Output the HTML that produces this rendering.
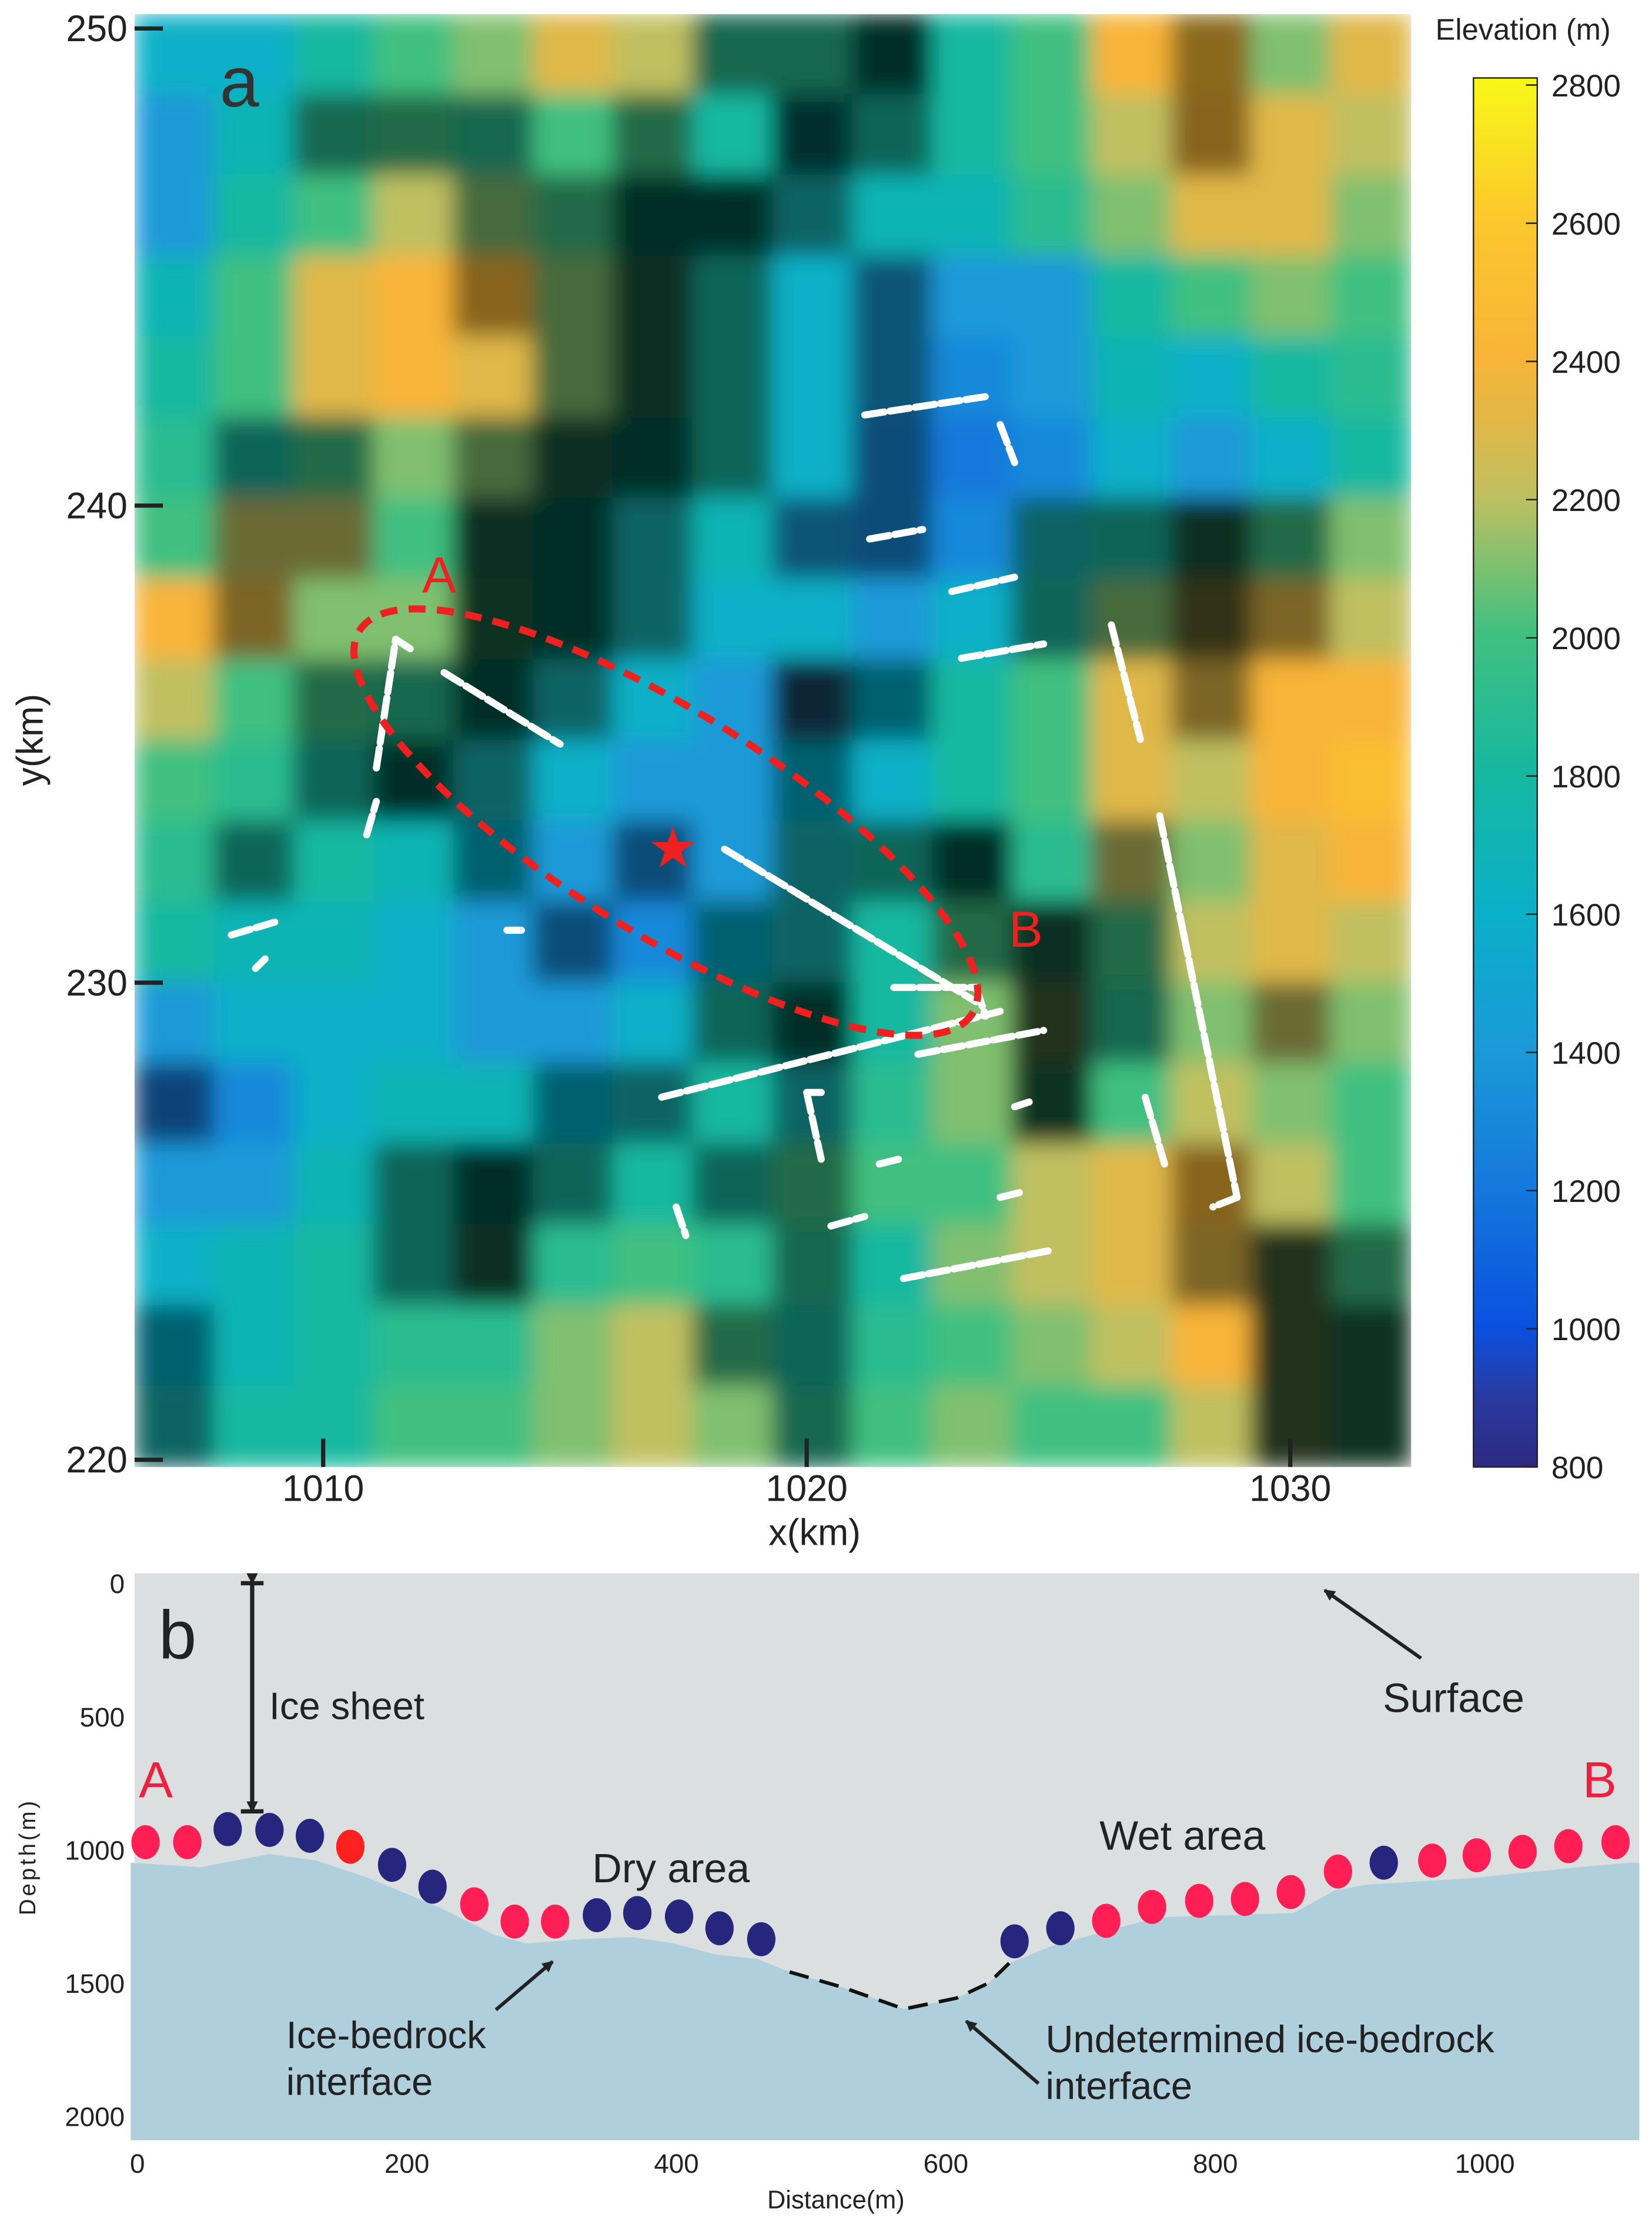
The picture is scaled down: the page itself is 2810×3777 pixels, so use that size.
<!DOCTYPE html>
<html><head><meta charset="utf-8"><style>
html,body{margin:0;padding:0;background:#fff;}
svg{display:block;}
text{font-family:"Liberation Sans",sans-serif;}
.n{font-family:"Liberation Sans Narrow","Liberation Sans",sans-serif;}
</style></head><body>
<svg id="fig" width="2810" height="3777" viewBox="0 0 1166 1567" preserveAspectRatio="none" xmlns="http://www.w3.org/2000/svg">
<defs>
<clipPath id="mapclip"><rect x="95" y="10" width="901" height="1025"/></clipPath>
<filter id="soft" x="0" y="0" width="1" height="1"><feGaussianBlur stdDeviation="8" edgeMode="duplicate"/></filter>
<linearGradient id="cbgrad" x1="0" y1="1" x2="0" y2="0">
<stop offset="0" stop-color="#2c2a80"/><stop offset="0.05" stop-color="#2a3aa0"/><stop offset="0.1" stop-color="#0a50e0"/><stop offset="0.2" stop-color="#1478dc"/><stop offset="0.3" stop-color="#1a9ad8"/><stop offset="0.4" stop-color="#0ab0c8"/><stop offset="0.5" stop-color="#16b8a0"/><stop offset="0.6" stop-color="#40c080"/><stop offset="0.65" stop-color="#80c070"/><stop offset="0.7" stop-color="#c0c060"/><stop offset="0.75" stop-color="#e0b848"/><stop offset="0.8" stop-color="#f8b438"/><stop offset="0.9" stop-color="#fcc82c"/><stop offset="1" stop-color="#f8f818"/>
</linearGradient>
<marker id="ah" markerWidth="8" markerHeight="8" refX="7" refY="4" orient="auto" markerUnits="userSpaceOnUse" viewBox="0 0 8 8"><path d="M0,0 L8,4 L0,8 z" fill="#222"/></marker>
</defs>
<g id="panelA">
<g clip-path="url(#mapclip)"><g id="heat" filter="url(#soft)"></g></g>
<g id="tracks" stroke="#fff" stroke-width="5" stroke-linecap="round" fill="none"></g>
<ellipse cx="470" cy="580" rx="255" ry="78" transform="rotate(32 470 580)" fill="none" stroke="#ee2020" stroke-width="5" stroke-dasharray="12 8"/>
<text x="475" y="612" font-size="40" fill="#ee2020" text-anchor="middle">★</text>
<text x="298" y="418" font-size="36" fill="#ee2020">A</text>
<text x="712" y="668" font-size="36" fill="#ee2020">B</text>
<text x="155" y="75" font-size="50" fill="#333">a</text>
<g id="axesA"></g>
<text x="575" y="1090" font-size="26" text-anchor="middle" fill="#222">x(km)</text>
<text x="30" y="522" font-size="26" text-anchor="middle" fill="#222" transform="rotate(-90 30 522)">y(km)</text>
<rect x="1040" y="55" width="45" height="980" fill="url(#cbgrad)" stroke="#222" stroke-width="1"/>
<g id="cbticks"></g>
<text x="1075" y="28" font-size="21" text-anchor="middle" fill="#222">Elevation (m)</text>
</g>
<g id="panelB">
<rect x="95" y="1110" width="1062" height="400" fill="#dcdfdf"/>
<g id="profile"></g>
<text x="112" y="1170" font-size="48" fill="#222" class="n">b</text>
<line x1="178" y1="1117" x2="178" y2="1278" stroke="#222" stroke-width="3" marker-start="url(#ah)" marker-end="url(#ah)"/>
<line x1="170" y1="1117" x2="186" y2="1117" stroke="#222" stroke-width="3"/>
<line x1="170" y1="1278" x2="186" y2="1278" stroke="#222" stroke-width="3"/>
<text x="190" y="1213" font-size="27" fill="#222" class="n">Ice sheet</text>
<text x="98" y="1268" font-size="36" fill="#ee2040" class="n">A</text>
<text x="1117" y="1268" font-size="36" fill="#ee2040" class="n">B</text>
<text x="976" y="1208" font-size="29" fill="#222" class="n">Surface</text>
<line x1="1003" y1="1170" x2="935" y2="1122" stroke="#222" stroke-width="2.5" marker-end="url(#ah)"/>
<text x="418" y="1328" font-size="29" fill="#222" class="n">Dry area</text>
<text x="776" y="1305" font-size="29" fill="#222" class="n">Wet area</text>
<text x="202" y="1445" font-size="27" fill="#222" class="n">Ice-bedrock</text>
<text x="202" y="1478" font-size="27" fill="#222" class="n">interface</text>
<line x1="350" y1="1418" x2="390" y2="1384" stroke="#222" stroke-width="2.5" marker-end="url(#ah)"/>
<text x="738" y="1448" font-size="27" fill="#222" class="n">Undetermined ice-bedrock</text>
<text x="738" y="1481" font-size="27" fill="#222" class="n">interface</text>
<line x1="733" y1="1470" x2="682" y2="1426" stroke="#222" stroke-width="2.5" marker-end="url(#ah)"/>
<g id="axesB"></g>
<text x="590" y="1558" font-size="18" text-anchor="middle" fill="#222" class="n">Distance(m)</text>
<text x="25" y="1310" font-size="16" text-anchor="middle" fill="#222" letter-spacing="2" transform="rotate(-90 25 1310)">Depth(m)</text>
</g>
</svg>
<script>
// ---- panel a data (elevation in hundreds of m) ----
const elevRows = [
[16,16,18,20,21,23,22,19,19,18,18,20,24,25,21,23],
[14,17,19,20,19,20,20,18,17,18,18,20,22,24,23,22],
[14,18,20,22,21,20,18,18,17,17,17,19,21,23,23,21],
[17,20,23,24,24,21,19,18,16,14,14,14,18,20,21,20],
[18,20,23,24,23,21,19,18,16,14,13,14,17,16,18,19],
[19,18,20,21,21,19,18,18,16,13,12,13,16,14,16,18],
[20,22,22,20,19,18,17,17,14,13,13,17,18,19,20,21],
[24,23,21,21,20,18,17,16,16,14,16,18,21,22,23,22],
[22,20,20,19,18,17,16,14,14,16,18,20,23,23,24,24],
[20,19,18,18,17,16,14,14,16,16,18,20,23,22,24,25],
[19,18,18,17,16,14,13,14,17,18,18,19,22,21,23,24],
[18,17,17,16,14,13,13,16,17,18,20,19,20,22,23,22],
[14,16,16,16,14,14,16,18,18,18,21,21,19,21,22,21],
[12,13,16,17,17,16,17,18,17,19,21,20,20,22,21,20],
[14,14,17,18,18,18,18,18,20,20,20,22,23,24,22,20],
[16,17,18,18,19,19,20,19,19,18,21,22,23,23,21,20],
[16,17,18,19,19,21,22,20,18,19,20,21,22,24,21,20],
[17,18,18,20,20,21,22,21,19,20,21,20,20,22,21,20]
];
const shadeRows = [
[0,0,0,0,0,0,0,1,1,2,0,0,0,1,0,0],
[0,0,1,1,1,0,1,0,2,1,0,0,0,1,0,0],
[0,0,0,0,1,1,2,2,1,0,0,0,0,0,0,0],
[0,0,0,0,1,1,2,1,0,1,0,0,0,0,0,0],
[0,0,0,0,0,1,2,1,0,1,0,0,0,0,0,0],
[0,1,1,0,1,2,2,1,0,1,0,0,0,0,0,0],
[0,1,1,0,2,2,1,0,1,1,0,1,1,2,1,0],
[0,1,0,0,2,2,1,0,0,0,0,1,1,2,1,0],
[0,0,1,1,2,1,0,0,2,1,0,0,0,1,0,0],
[0,0,1,2,1,0,0,0,1,0,0,0,0,0,0,0],
[0,1,0,0,1,0,1,0,1,1,2,0,1,0,0,0],
[0,0,0,0,0,1,0,1,1,0,1,2,1,0,0,0],
[0,0,0,0,0,0,0,1,2,0,0,2,1,0,1,0],
[1,0,0,0,0,1,1,0,1,0,0,2,0,0,0,0],
[0,0,0,1,2,1,0,1,1,0,0,0,0,1,0,0],
[0,0,0,1,2,0,0,0,1,0,0,0,0,1,2,1],
[1,0,0,0,0,0,0,1,1,0,0,0,0,0,2,2],
[1,0,0,0,0,0,0,0,1,0,0,0,0,0,2,2]
];
const xTicks = [1010,1020,1030];
const yTicks = [250,240,230,220];
const cbTicks = [2800,2600,2400,2200,2000,1800,1600,1400,1200,1000,800];
const colorStops = [[800,"#2c2a80"],[900,"#2a3aa0"],[1000,"#0a50e0"],[1200,"#1478dc"],[1400,"#1a9ad8"],[1600,"#0ab0c8"],[1800,"#16b8a0"],[2000,"#40c080"],[2100,"#80c070"],[2200,"#c0c060"],[2300,"#e0b848"],[2400,"#f8b438"],[2600,"#fcc82c"],[2800,"#f8f818"]];
const trackKm = [
[[1010.9,233.1],[1011.1,233.8]],[[1011.1,234.5],[1011.5,237.2]],[[1011.5,237.2],[1011.8,237.0]],
[[1012.5,236.5],[1014.9,235.0]],[[1018.3,232.8],[1023.5,229.6]],[[1017.0,227.6],[1024.0,229.4]],
[[1021.8,229.9],[1023.5,229.9]],[[1023.5,229.9],[1023.7,229.3]],[[1022.3,228.5],[1024.9,229.0]],
[[1020.0,227.7],[1020.3,227.7]],[[1020.0,227.7],[1020.3,226.3]],[[1022.0,223.8],[1025.1,224.4]],
[[1021.2,241.9],[1023.8,242.3]],[[1024.0,241.7],[1024.3,240.9]],[[1021.3,239.3],[1022.4,239.5]],
[[1023.0,238.2],[1024.3,238.5]],[[1023.2,236.8],[1024.9,237.1]],[[1026.3,237.5],[1026.9,235.1]],
[[1027.3,233.5],[1027.8,231.0]],[[1027.8,231.0],[1028.9,225.5]],[[1028.9,225.5],[1028.4,225.3]],
[[1027.0,227.6],[1027.4,226.2]],[[1008.1,231.0],[1009.1,231.3]],[[1013.8,231.1],[1014.1,231.1]],
[[1020.5,224.9],[1021.2,225.1]],[[1024.0,225.5],[1024.4,225.6]],[[1017.3,225.3],[1017.5,224.7]],
[[1008.6,230.3],[1008.8,230.5]],[[1021.5,226.2],[1021.9,226.3]],[[1024.3,227.4],[1024.6,227.5]]
];
// ---- panel b data ----
const bedDist = [-5,47,98,133,172,226,265,289,328,367,398,429,460,484,523,569,608,632,647,679,757,858,889,913,991,1022,1069,1108];
const bedDepth = [1049,1066,1016,1041,1107,1221,1320,1352,1336,1328,1352,1393,1410,1459,1516,1598,1557,1500,1426,1361,1254,1238,1152,1131,1107,1090,1066,1049];
const undetStart = 13, undetEnd = 18;
const dotDist = [6,37,67,98,128,158,189,219,250,280,310,341,371,402,432,463,651,685,719,753,788,822,856,891,925,961,994,1028,1062,1097];
const dotDepth = [972,972,923,926,948,989,1057,1139,1205,1270,1270,1246,1238,1251,1295,1336,1344,1295,1267,1215,1192,1185,1159,1082,1049,1041,1021,1008,987,972];
const dotType = ["w","w","d","d","d","r","d","d","w","w","w","d","d","d","d","d","d","d","w","w","w","w","w","w","d","w","w","w","w","w"];
const depthTicks = [0,500,1000,1500,2000];
const distTicks = [0,200,400,600,800,1000];

const NS="http://www.w3.org/2000/svg";
function mk(tag,attrs,parent){const e=document.createElementNS(NS,tag);for(const k in attrs)e.setAttribute(k,attrs[k]);parent.appendChild(e);return e;}
const X0=95,X1=996,Y0=10,Y1=1035;
const kmX0=1006.1,kmX1=1032.5,kmY0=250.3,kmY1=219.85;
const sx=v=>X0+(v-kmX0)/(kmX1-kmX0)*(X1-X0);
const sy=v=>Y0+(v-kmY0)/(kmY1-kmY0)*(Y1-Y0);
function hex2rgb(h){return [parseInt(h.substr(1,2),16),parseInt(h.substr(3,2),16),parseInt(h.substr(5,2),16)];}
function colorFor(e,sh){let c=hex2rgb(colorStops[colorStops.length-1][1]);
 for(let i=0;i<colorStops.length-1;i++){const a=colorStops[i],b=colorStops[i+1];if(e>=a[0]&&e<=b[0]){const t=(e-a[0])/(b[0]-a[0]);const ca=hex2rgb(a[1]),cb=hex2rgb(b[1]);c=ca.map((v,j)=>v+(cb[j]-v)*t);break;}}
 const f=[1,0.55,0.25][sh];return "rgb("+c.map(v=>Math.round(v*f)).join(",")+")";}
const heat=document.getElementById('heat');
const nr=elevRows.length,nc=elevRows[0].length,cw=(X1-X0)/nc,ch=(Y1-Y0)/nr;
for(let r=0;r<nr;r++)for(let c=0;c<nc;c++){
 const rc=mk('rect',{x:X0+c*cw-0.5,y:Y0+r*ch-0.5,width:cw+1,height:ch+1,fill:colorFor(elevRows[r][c]*100,shadeRows[r][c])},heat);
 
 
}
const tr=document.getElementById('tracks');
trackKm.forEach(s=>{const l=mk('line',{x1:sx(s[0][0]),y1:sy(s[0][1]),x2:sx(s[1][0]),y2:sy(s[1][1]),'stroke-dasharray':'14 4'},tr);
 
 });
const axA=document.getElementById('axesA');
xTicks.forEach(v=>{mk('line',{x1:sx(v),y1:1015,x2:sx(v),y2:1035,stroke:'#222','stroke-width':3},axA);
 const t=mk('text',{x:sx(v),y:1059,'font-size':26,'text-anchor':'middle',fill:'#222'},axA);t.textContent=v;
 
 });
yTicks.forEach(v=>{mk('line',{x1:95,y1:sy(v),x2:115,y2:sy(v),stroke:'#222','stroke-width':3},axA);
 const t=mk('text',{x:90,y:sy(v)+9,'font-size':26,'text-anchor':'end',fill:'#222'},axA);t.textContent=v;
 
 });
const cbg=document.getElementById('cbticks');
const cy=v=>1035-(v-800)/2000*975;
cbTicks.forEach(v=>{mk('line',{x1:1077,y1:cy(v),x2:1085,y2:cy(v),stroke:'#222','stroke-width':1},cbg);
 const t=mk('text',{x:1095,y:cy(v)+8,'font-size':22,fill:'#222'},cbg);t.textContent=v;
 
 });
const bx=d=>97+d*0.951, by=z=>1117+z*0.188;
const prof=document.getElementById('profile');
let pts=bedDist.map((d,i)=>bx(d)+","+by(bedDepth[i]));
pts.unshift(bx(-5)+",1510");pts.push("1157,"+by(bedDepth[bedDepth.length-1]),"1157,1510");
const poly=mk('polygon',{points:pts.join(" "),fill:'#b0cfdc'},prof);


let dpts=[];for(let i=undetStart;i<=undetEnd;i++)dpts.push(bx(bedDist[i])+","+by(bedDepth[i]));
const ud=mk('polyline',{points:dpts.join(" "),fill:'none',stroke:'#111','stroke-width':2.5,'stroke-dasharray':'14 8'},prof);


const cols={w:'#ff1f55',d:'#26267e',r:'#ff2020'};
dotDist.forEach((d,i)=>{const e=mk('ellipse',{cx:bx(d),cy:by(dotDepth[i]),rx:10,ry:12,fill:cols[dotType[i]]},prof);
 
 });
const axB=document.getElementById('axesB');
depthTicks.forEach(v=>{const t=mk('text',{x:88,y:by(v)+7,'font-size':19,'text-anchor':'end',fill:'#222',class:'n'},axB);t.textContent=v;
 
 });
distTicks.forEach(v=>{const t=mk('text',{x:bx(v),y:1533,'font-size':19,'text-anchor':'middle',fill:'#222',class:'n'},axB);t.textContent=v;
 
 });
</script>
</body></html>
